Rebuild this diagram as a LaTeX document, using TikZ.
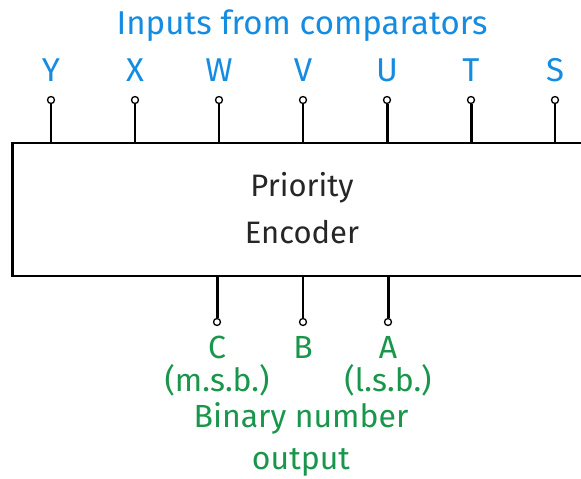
\documentclass[tikz,border=0pt]{standalone}
\usepackage{fontspec}
\setmainfont{Fira Sans}
\definecolor{inblue}{RGB}{20,140,225}
\definecolor{outgreen}{RGB}{25,150,75}
\begin{document}
\begin{tikzpicture}[x=1pt,y=-1pt,
  pin/.style={circle,draw=black,fill=white,line width=1.3pt,inner sep=0pt,minimum size=7pt},
  thinw/.style={line width=1.4pt},
  thickw/.style={line width=3pt},
  blab/.style={text=inblue,font=\fontsize{33}{38}\selectfont,inner sep=0pt},
  glab/.style={text=outgreen,font=\fontsize{32}{38}\selectfont,inner sep=0pt},
  klab/.style={text=black!85,font=\fontsize{31}{38}\selectfont,inner sep=0pt}]
\useasboundingbox (0,0) rectangle (581,479);
% box
\draw[line width=2pt] (581,143) -- (12,143) -- (12,276) -- (581,276);
\draw[line width=3pt] (12,142) -- (12,277);
\node[klab] (t1) at (302,188) {Priority};
\node[klab] (t2) at (302,232) {Encoder};
% title
\node[blab] (title) at (302,26) {Inputs from comparators};
% inputs
\foreach \n/\x/\w in {Y/51/thinw,X/135/thinw,W/219/thinw,V/303/thinw,U/387/thickw,T/471/thickw,S/555/thinw}{
  \coordinate (b\n) at (\x,143);
  \node[pin] (p\n) at (\x,100) {};
  \draw[\w] (b\n) -- (p\n);
  \node[blab] (l\n) at (\x,70) {\n};
}
% outputs
\foreach \n/\x/\w in {C/217/thickw,B/303/thinw,A/388/thickw}{
  \coordinate (o\n) at (\x,276);
  \node[pin] (q\n) at (\x,322) {};
  \draw[\w] (o\n) -- (q\n);
  \node[glab] (m\n) at (\x,347) {\n};
}
\node[glab] (msb) at (217,380) {(m.s.b.)};
\node[glab] (lsb) at (388,380) {(l.s.b.)};
\node[glab] (bn) at (301,418) {Binary number};
\node[glab] (out) at (301,462) {output};
\end{tikzpicture}
\end{document}
